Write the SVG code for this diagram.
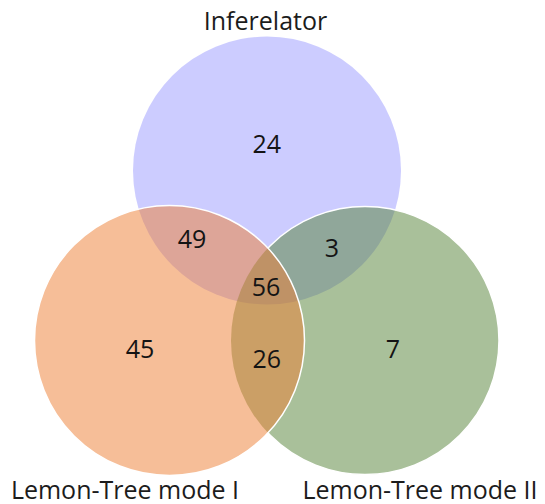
<svg xmlns="http://www.w3.org/2000/svg" width="545" height="504" viewBox="0 0 545 504">
  <style>
    .lbl { font-family: "Open Sans", "Noto Sans", "DejaVu Sans", sans-serif; font-size: 25px; fill: #1c1c1c; text-anchor: middle; }
    .num { font-family: "Open Sans", "Noto Sans", "DejaVu Sans", sans-serif; font-size: 25px; fill: #141414; text-anchor: middle; }
    .edge { stroke: #ffffff; stroke-width: 1.5; }
  </style>
  <defs>
    <mask id="outsideOrange" maskUnits="userSpaceOnUse" x="0" y="0" width="545" height="504">
      <rect width="545" height="504" fill="#ffffff"/>
      <circle cx="169.5" cy="340.5" r="135.5" fill="#000000"/>
    </mask>
  </defs>
  <rect width="545" height="504" fill="#ffffff"/>
  <g id="inferelator">
    <circle cx="267" cy="170.5" r="134" fill="#0000ff" fill-opacity="0.2"/>
    <text class="lbl" x="265.5" y="29.5">Inferelator</text>
  </g>
  <g id="lemon-tree-mode-ii">
    <circle cx="365" cy="340.5" r="134" fill="#548235" fill-opacity="0.5"/>
    <circle class="edge" cx="365" cy="340.5" r="134" fill="none" mask="url(#outsideOrange)"/>
    <text class="lbl" x="420" y="498.5">Lemon-Tree mode II</text>
  </g>
  <g id="lemon-tree-mode-i">
    <circle class="edge" cx="169.5" cy="340.5" r="135" fill="#ed7d31" fill-opacity="0.5"/>
    <text class="lbl" x="125" y="498.5">Lemon-Tree mode I</text>
  </g>
  <g id="connectors"></g>
  <g id="counts">
    <text class="num" x="266.7" y="152.7">24</text>
    <text class="num" x="192" y="248.3">49</text>
    <text class="num" x="332" y="256.7">3</text>
    <text class="num" x="266" y="296">56</text>
    <text class="num" x="266.7" y="368.3">26</text>
    <text class="num" x="140" y="357.7">45</text>
    <text class="num" x="393" y="357.7">7</text>
  </g>
</svg>
